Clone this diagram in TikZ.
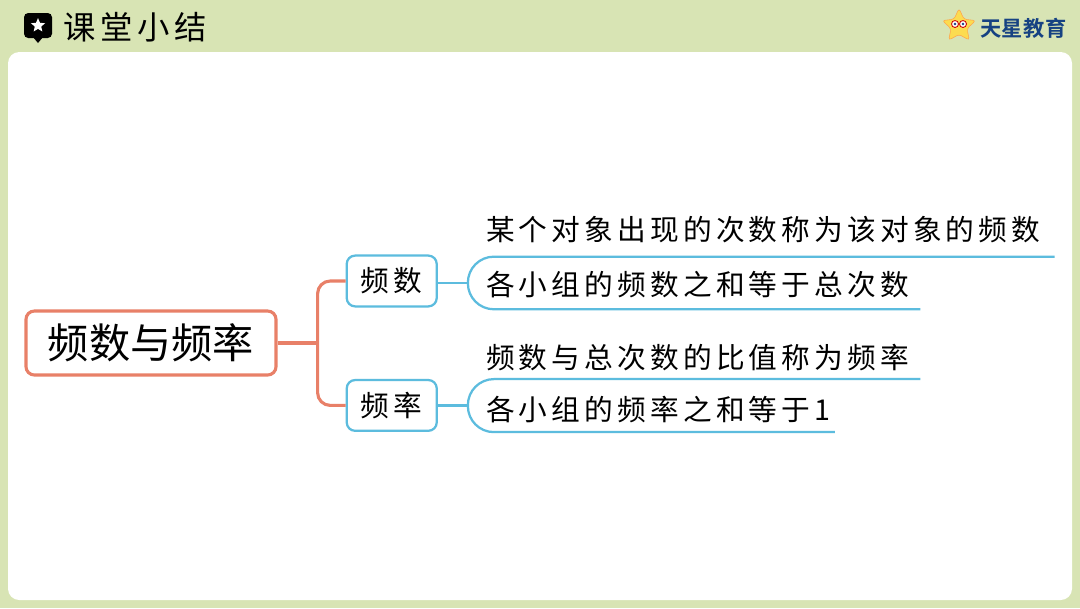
\documentclass[tikz,border=0pt]{standalone}
\usepackage{fontspec}
\usepackage{xcolor}
\usepackage{tikz}
\usetikzlibrary{shapes.geometric,positioning,calc}
\setmainfont{Noto Sans CJK SC}
\newfontfamily\cjkspaced[LetterSpace=14.5]{Noto Sans CJK SC}
\newfontfamily\cjkbold[LetterSpace=2]{Noto Sans CJK SC Bold}
\definecolor{pagegreen}{RGB}{216,228,180}
\definecolor{rootorange}{RGB}{232,128,104}
\definecolor{topicblue}{RGB}{92,188,222}
\definecolor{logonavy}{RGB}{22,66,130}
\definecolor{staryellow}{RGB}{252,220,80}

\begin{document}
\begin{tikzpicture}[
    x=0.025cm, y=-0.025cm,
    rootbox/.style={rectangle, draw=rootorange, line width=2.2pt, fill=white, minimum width=6.25cm, minimum height=1.6cm, rounded corners=6pt, font=\fontsize{29.3}{35}\selectfont},
    topicbox/.style={rectangle, draw=topicblue, line width=1.6pt, fill=white, minimum width=2.25cm, minimum height=1.27cm, rounded corners=6pt, font=\cjkspaced\fontsize{20.4}{24}\selectfont},
    leaftext/.style={inner sep=0pt, anchor=west, text height=0.5cm, text depth=0.08cm, font=\cjkspaced\fontsize{20.4}{24}\selectfont},
    rootline/.style={draw=rootorange, line width=2.2pt, rounded corners=9pt},
    leafline/.style={draw=topicblue, line width=1.6pt, rounded corners=0.65cm},
    stemline/.style={draw=topicblue, line width=1.6pt}]
  % page and panel
  \fill[pagegreen] (0,0) rectangle (1080,608);
  \fill[white, rounded corners=8pt] (8,52) rectangle (1072,600);
  \useasboundingbox (0,0) rectangle (1080,608);
  % header
  \fill[black, rounded corners=3pt] (24,13) rectangle (52,38);
  \fill[black] (33,37) -- (38,43) -- (43,37) -- cycle;
  \node[star, star points=5, star point ratio=2.2, fill=white, inner sep=0pt, minimum size=0.37cm] (badge) at (38,25.5) {};
  \node[inner sep=0pt, anchor=west, font=\cjkspaced\fontsize{23}{27}\selectfont] (title) at (63,27) {课堂小结};
  % logo
  \node[star, star points=5, star point ratio=2.1, fill=staryellow, draw=orange!70, rounded corners=2pt, inner sep=0pt, minimum size=0.88cm] (logostar) at (959,26) {};
  \draw[red!80!black, line width=0.6pt, fill=white] (955,24) circle (3.5) (963,24) circle (3.5);
  \fill[logonavy] (955,24) circle (1.3) (963,24) circle (1.3);
  \node[inner sep=0pt, anchor=west, text=logonavy, font=\cjkbold\fontsize{15.1}{18}\selectfont] (brand) at (980,28) {天星教育};
  % map
  \node[rootbox] (root) at (151,343) {频数与频率};
  \node[topicbox, right=1.7cm of root, yshift=1.55cm] (count) {频数};
  \node[topicbox, right=1.7cm of root, yshift=-1.56cm] (rate) {频率};
  \coordinate[right=1cm of root] (fork);
  \draw[rootline] (root) -- (fork);
  \draw[rootline] (count) -| (fork) |- (rate);
  % count branch
  \node[leaftext, right=1.2cm of count, yshift=1.23cm] (leafa) {某个对象出现的次数称为该对象的频数};
  \node[leaftext, right=1.2cm of count, yshift=-0.16cm] (leafb) {各小组的频数之和等于总次数};
  \coordinate (enda) at ($(leafa.south east)+(14,13)$);
  \coordinate (endb) at ($(leafb.south east)+(11,10)$);
  \coordinate[right=0.75cm of count, yshift=-0.05cm] (forka);
  \draw[stemline] (count.east |- forka) -- (forka);
  \draw[leafline] (enda) -- (forka |- enda) -- (forka |- endb) -- (endb);
  % rate branch
  \node[leaftext, right=1.2cm of rate, yshift=1.13cm] (leafc) {频数与总次数的比值称为频率};
  \node[leaftext, right=1.2cm of rate, yshift=-0.17cm] (leafd) {各小组的频率之和等于1};
  \coordinate (endc) at ($(leafc.south east)+(11,7)$);
  \coordinate (endd) at ($(leafd.south east)+(4,8)$);
  \coordinate[right=0.75cm of rate] (forkb);
  \draw[stemline] (rate) -- (forkb);
  \draw[leafline] (endc) -- (forkb |- endc) -- (forkb |- endd) -- (endd);
\end{tikzpicture}
\end{document}
